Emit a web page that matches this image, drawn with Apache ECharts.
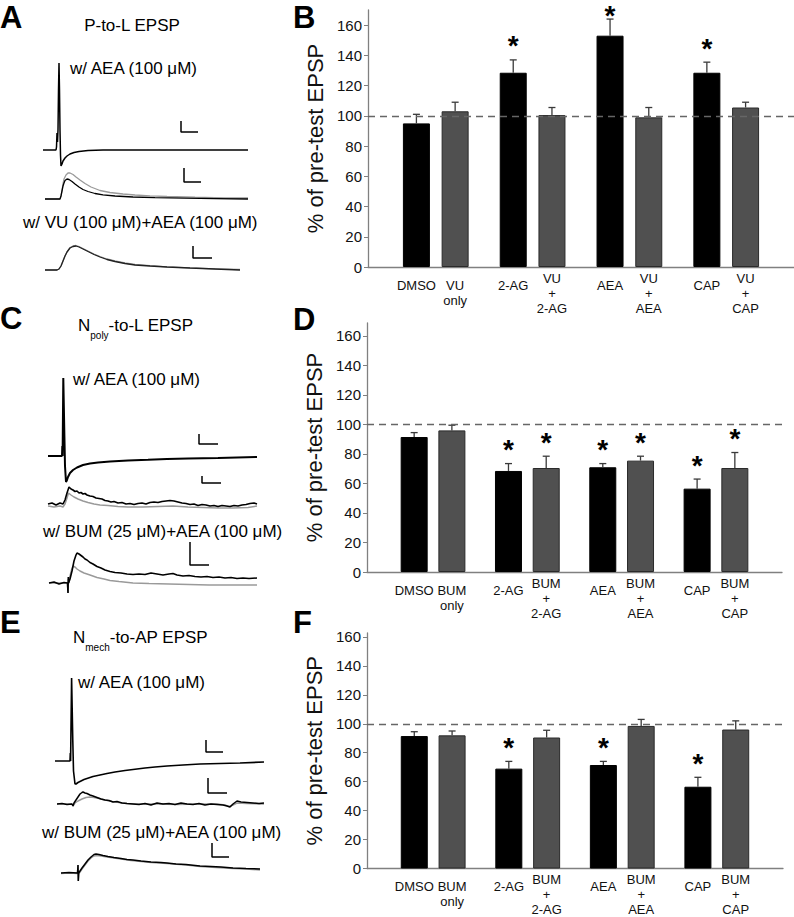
<!DOCTYPE html>
<html><head><meta charset="utf-8">
<script src="https://cdn.jsdelivr.net/npm/echarts@6/dist/echarts.min.js"></script>
<style>html,body{margin:0;padding:0;background:#fff}#c{width:794px;height:917px}</style>
</head><body><div id="c"></div>
<script>
// ================= DATA =================
const labelsB = ['DMSO','VU\nonly','2-AG','VU\n+\n2-AG','AEA','VU\n+\nAEA','CAP','VU\n+\nCAP'];
const valuesB = [95, 103, 128.5, 100.5, 153, 99, 128.5, 105.5];
const errorsB = [6, 6, 8.5, 5, 11, 6.5, 7, 3.5];
const sigB    = [0, 0, 1, 0, 1, 0, 1, 0];

const labelsD = ['DMSO','BUM\nonly','2-AG','BUM\n+\n2-AG','AEA','BUM\n+\nAEA','CAP','BUM\n+\nCAP'];
const valuesD = [91.5, 96, 68.5, 70.5, 71, 75.5, 56.5, 70.5];
const errorsD = [3, 3.5, 5, 8, 2.5, 3, 6.5, 10.5];
const sigD    = [0, 0, 1, 1, 1, 1, 1, 1];

const labelsF = ['DMSO','BUM\nonly','2-AG','BUM\n+\n2-AG','AEA','BUM\n+\nAEA','CAP','BUM\n+\nCAP'];
const valuesF = [91.5, 92, 69, 90.5, 71.5, 98.5, 56.5, 96];
const errorsF = [3, 3, 5, 5, 2.5, 4.5, 6.5, 6];
const sigF    = [0, 0, 1, 0, 1, 0, 1, 0];

const yTicks = [0, 20, 40, 60, 80, 100, 120, 140, 160];
const refLevel = 100;
const yAxisTitle = '% of pre-test EPSP';

// Electrophysiology traces: [time, potential] (arbitrary units)
const traceA1 = [[0,0],[13,0],[13.5,3],[14,17],[14.5,8],[15,20],[15.5,60],[16,87],[16.5,60],[17,20],[17.5,-5],[18,-16],[19,-14],[20,-11],[22,-8],[24,-6],[27,-4],[31,-2.5],[36,-1.5],[45,-0.5],[60,0],[205,0]];
const traceA2black = [[0,0],[15,0],[16,3],[17,8],[18,13],[19,16],[20,18.5],[22,20],[24,19.5],[27,17.5],[30,15],[34,12],[38,9.5],[43,7.5],[50,5.5],[58,4.2],[70,3],[88,2],[110,1.3],[140,0.8],[170,0.4],[203,0]];
const traceA2gray  = [[0,0],[15,0],[16,3],[17,9],[18,15],[19,20],[21,24],[23,26],[25,26],[28,24.5],[31,22],[35,19],[40,15.5],[46,12],[55,8.5],[65,6.5],[78,5],[90,4],[105,3.2],[122,2.5],[150,1.8],[180,1.2],[203,1]];
const traceA3black = [[0,0],[12,0],[14,1],[16,4],[18,9],[20,14],[22,18],[25,22],[28,23.5],[31,24],[34,23],[38,21],[43,18.5],[49,15.5],[55,13],[62,10.5],[70,8.5],[80,6.5],[90,5],[105,4],[122,3],[145,2],[170,1],[195,0]];
const traceA3gray  = [[0,0],[12,0],[14,1],[16,4],[18,9],[20,14],[22,18],[25,22.5],[28,24],[31,24.5],[34,23.5],[38,21.5],[43,19],[49,16],[55,13.5],[62,11],[70,9],[80,7],[90,5.5],[105,4.3],[122,3.2],[145,2.2],[170,1.2],[195,0.5]];

const traceC1 = [[0,0],[14,0],[14.3,10],[14.6,0],[15,0],[15.3,78],[16,78],[16.4,20],[17,-10],[18,-26],[19,-24],[20,-21],[22,-17],[25,-14],[29,-11.5],[35,-9],[42,-7.5],[50,-6.5],[62,-5.5],[80,-4.5],[100,-3.8],[119,-3],[140,-2.5],[170,-2],[209,-1]];
const traceC2black = [[0,0],[4,1],[8,-1],[12,1],[15,0],[17,4],[19,11],[21,17],[23,15],[25,14],[27,12.5],[29,13],[31,11],[33,11.5],[35,10],[37,10.5],[39,9],[42,8],[45,7.5],[48,6],[51,5.5],[54,5],[57,3.5],[60,3],[63,2],[66,2.5],[70,1],[74,1.5],[78,0],[82,0.5],[86,-0.5],[90,0.5],[94,1],[98,0],[102,1.5],[106,2],[110,1.5],[114,2.5],[118,3],[122,3.5],[126,3],[130,2],[134,1],[138,0.5],[142,-0.5],[146,0],[150,-1.5],[154,-0.5],[158,-1],[162,-2],[166,-1.5],[170,-2.5],[174,-1.5],[178,-2],[182,-2.5],[186,-1.5],[190,-2],[194,-1],[198,-0.5],[202,0.5],[206,1],[209,0]];
const traceC2gray  = [[0,-2],[6,-3],[12,-2],[15,-3],[17,0],[19,6],[20.5,11],[23,9],[26,7],[30,5],[35,3],[40,1.5],[46,0],[52,-1],[60,-1.5],[70,-2.5],[80,-3],[95,-3],[110,-2.5],[125,-2],[140,-3],[155,-3.5],[170,-4],[185,-4],[200,-3.5],[209,-2]];
const traceC3black = [[0,0],[5,1],[10,-1],[15,0.5],[18.5,0],[19,-10],[19.3,6],[19.6,0],[21,4],[23,12],[25,22],[27,28],[28,30],[30,29],[32,27.5],[34,26],[36,24],[38,23],[41,20.5],[44,19],[48,16.5],[52,15],[56,13],[61,11.5],[66,10.5],[72,10],[78,9],[84,8.5],[90,9],[96,8.5],[102,10],[108,9],[114,8],[120,9],[124,9.5],[128,8],[134,7],[140,7.5],[146,6.5],[152,6],[158,6.5],[164,5.5],[170,6],[176,5],[182,5.5],[188,4.5],[194,5],[200,4.5],[208,5]];
const traceC3gray  = [[0,0],[10,0],[18.5,0],[19,-10],[19.3,4],[19.6,0],[21,7],[22.5,13],[24,17],[26,16],[28,14],[31,12],[35,10],[41,8],[48,5.5],[55,4],[61,2.5],[70,1.5],[84,0],[100,-0.5],[120,-1],[140,-1.5],[160,-2],[180,-2],[208,-2]];

const traceE1 = [[0,0],[15,0],[15.3,8],[15.6,0],[16.2,0],[16.6,83],[17.2,83],[17.8,20],[18.5,-10],[20,-23],[21,-23],[23,-21.5],[26,-20],[29,-18.5],[32,-17.5],[38,-15.5],[45,-14],[52,-12.5],[60,-11],[70,-9.5],[78,-8.5],[90,-7],[100,-6],[112,-5],[128,-4],[145,-3],[165,-2.5],[185,-2],[209,-1]];
const traceE2black = [[0,0],[5,0.5],[10,-0.5],[15,0],[16,-2],[17,1],[19,4],[21,7],[23,10],[25,11.5],[26,12],[28,11],[30,10.5],[33,9],[36,8],[40,6.5],[44,5],[48,4],[52,3.5],[56,2],[60,2.5],[65,1],[70,0.5],[76,0],[82,-0.5],[88,0.5],[94,-1],[100,1],[106,0],[112,0.5],[118,-0.5],[124,1],[130,0],[136,-0.5],[142,0.5],[148,-1],[154,0],[160,-0.5],[166,-1],[170,-2],[173,-3],[176,0],[180,3],[184,2],[190,1.5],[196,1],[202,0.5],[207,1]];
const traceE2gray  = [[0,0],[15,0],[16,-2],[18,1],[21,3],[25,5],[29,6.5],[33,7],[37,6.5],[42,5.5],[48,4],[55,2.5],[62,1.5],[70,0.5],[80,0],[100,0],[120,-0.5],[140,0],[160,0],[168,-1],[172,-2.5],[176,-1],[180,1],[190,0.5],[207,0]];
const traceE3black = [[0,0],[8,0.5],[16.5,0],[17,8],[17.3,-8],[17.7,0],[19,2],[21,5],[24,9],[27,13],[30,16],[33,18.5],[35,19],[38,18.5],[42,17.5],[47,16.5],[53,15.5],[60,14.5],[66,13.5],[72,13],[80,12],[90,11],[100,10.5],[106,10],[115,9],[125,8.5],[139,7],[150,6.5],[160,6],[172,5],[185,4.5],[199,4]];
const traceE3gray  = [[0,-0.5],[8,0],[16.5,-0.5],[17,8],[17.3,-8],[17.7,-1],[19,1],[21,4],[24,8],[27,12],[30,15],[33,17],[36,17.5],[40,17],[46,16],[53,15],[60,14],[70,12.5],[80,11.5],[90,10.5],[106,9.5],[125,8],[139,6.5],[155,5.5],[172,4.5],[185,4],[199,3]];

// scale bars (time, potential)
const scaleA1 = [[138,29],[138,18],[155,18]];
const scaleA2 = [[139,31],[139,17],[156,17]];
const scaleA3 = [[148,24],[148,12],[167,12]];
const scaleC1 = [[151,22],[151,12],[170,12]];
const scaleC2 = [[154,28],[154,21],[173,21]];
const scaleC3 = [[141,41],[141,18],[160,18]];
const scaleE1 = [[151,21],[151,9],[168,9]];
const scaleE2 = [[151,26],[151,11],[170,11]];
const scaleE3 = [[151,30],[151,16],[168,16]];

// ================= LAYOUT / STYLE =================
const FONT = '"Liberation Sans", Arial, Helvetica, sans-serif';
const SLOTS = 22;
const barSlots = [2, 4, 7, 9, 12, 14, 17, 19];
const BLACK = '#000000', GRAY = '#505050', TGRAY = '#9a9a9a';

const grids = [], xAxes = [], yAxes = [], series = [];

function addBarPanel(box, yMax, labels, values, errors, sig) {
  const gi = grids.length;
  grids.push(Object.assign({containLabel:false}, box));
  const cats = new Array(SLOTS).fill('');
  labels.forEach((l, i) => { cats[barSlots[i]] = l; });
  xAxes.push({
    gridIndex: gi, type: 'category', boundaryGap: true,
    data: cats.map(c => ({value: c, textStyle: {padding: [c.split('\n').length === 3 ? 0 : 7, 0, 0, 0]}})),
    axisTick: {show: false},
    axisLine: {lineStyle: {color: '#808080', width: 1.3}},
    axisLabel: {interval: 0, margin: 3.5, fontSize: 13, lineHeight: 15, color: '#111', fontFamily: FONT, verticalAlign: 'top'}
  });
  yAxes.push({
    gridIndex: gi, type: 'value', min: 0, max: yMax, interval: 20,
    axisLine: {show: true, lineStyle: {color: '#808080', width: 1.3}},
    axisTick: {show: true, length: 4, lineStyle: {color: '#808080'}, customValues: yTicks},
    splitLine: {show: false},
    axisLabel: {fontSize: 15, color: '#111', margin: 6, fontFamily: FONT, customValues: yTicks, showMaxLabel: true, showMinLabel: true},
    name: yAxisTitle, nameLocation: 'middle', nameGap: 36,
    nameTextStyle: {fontSize: 22, color: '#111', fontFamily: FONT}
  });
  const blackData = new Array(SLOTS).fill('-');
  const grayData = new Array(SLOTS).fill('-');
  values.forEach((v, i) => { (i % 2 === 0 ? blackData : grayData)[barSlots[i]] = v; });
  series.push({
    type: 'line', xAxisIndex: gi, yAxisIndex: gi, data: blackData, symbol: 'none',
    lineStyle: {opacity: 0}, z: 1, silent: true, animation: false,
    markLine: {silent: true, symbol: ['none', 'none'], label: {show: false}, animation: false,
      lineStyle: {type: [7, 5], color: '#666', width: 1.3}, data: [{yAxis: refLevel}]}
  });
  series.push({type: 'bar', xAxisIndex: gi, yAxisIndex: gi, data: blackData, barWidth: 27, barGap: '-100%',
    itemStyle: {color: BLACK, borderColor: '#000', borderWidth: 1}, z: 3, animation: false});
  series.push({type: 'bar', xAxisIndex: gi, yAxisIndex: gi, data: grayData, barWidth: 27, barGap: '-100%',
    itemStyle: {color: GRAY, borderColor: '#2a2a2a', borderWidth: 1}, z: 3, animation: false});
  series.push({
    type: 'custom', xAxisIndex: gi, yAxisIndex: gi, z: 4, clip: false, animation: false, silent: true,
    data: values.map((v, i) => [barSlots[i], v, errors[i]]),
    encode: {x: 0, y: 1},
    renderItem: (params, api) => {
      const x = api.value(0), v = api.value(1), e = api.value(2);
      const p0 = api.coord([x, v]), p1 = api.coord([x, v + e]);
      const st = {stroke: '#3a3a3a', lineWidth: 1.3, fill: null};
      return {type: 'group', children: [
        {type: 'line', shape: {x1: p0[0], y1: p0[1], x2: p1[0], y2: p1[1]}, style: st},
        {type: 'line', shape: {x1: p1[0] - 3.5, y1: p1[1], x2: p1[0] + 3.5, y2: p1[1]}, style: st}
      ]};
    }
  });
  series.push({
    type: 'custom', xAxisIndex: gi, yAxisIndex: gi, z: 5, clip: false, animation: false, silent: true,
    data: values.map((v, i) => [barSlots[i], v + errors[i], sig[i]]).filter(d => d[2] === 1),
    encode: {x: 0, y: 1},
    renderItem: (params, api) => {
      const p = api.coord([api.value(0), api.value(1)]);
      return {type: 'text', x: p[0], y: Math.max(p[1] - 14, 15),
        style: {text: '*', fill: '#000', fontSize: 28, fontWeight: 'bold', fontFamily: FONT, align: 'center', verticalAlign: 'middle'}};
    }
  });
}

function addTraceGrid(left, baselineY, tmax, vmin, vmax, traces, scaleBar) {
  const gi = grids.length;
  grids.push({left: left, top: baselineY - vmax, width: tmax, height: vmax - vmin});
  xAxes.push({gridIndex: gi, type: 'value', min: 0, max: tmax, show: false});
  yAxes.push({gridIndex: gi, type: 'value', min: vmin, max: vmax, show: false});
  traces.forEach(t => series.push({
    type: 'line', xAxisIndex: gi, yAxisIndex: gi, data: t.data, symbol: 'none', showSymbol: false,
    lineStyle: {color: t.color, width: t.width}, animation: false, silent: true, z: t.z || 2
  }));
  series.push({
    type: 'line', xAxisIndex: gi, yAxisIndex: gi, data: scaleBar, symbol: 'none',
    lineStyle: {color: '#000', width: 1.5}, animation: false, silent: true
  });
}

// Bar panels B, D, F
addBarPanel({left: 368, right: 0, top: 10, bottom: 650}, 170, labelsB, valuesB, errorsB, sigB);
addBarPanel({left: 367, right: 12, top: 323, bottom: 345}, 168.8, labelsD, valuesD, errorsD, sigD);
addBarPanel({left: 367, right: 11, top: 633, bottom: 44}, 162.7, labelsF, valuesF, errorsF, sigF);

// Trace panels A, C, E
addTraceGrid(43, 150, 205, -20, 90, [{data: traceA1, color: BLACK, width: 1.5}], scaleA1);
addTraceGrid(45, 199, 203, -5, 35, [{data: traceA2gray, color: TGRAY, width: 1.3}, {data: traceA2black, color: BLACK, width: 1.3, z: 3}], scaleA2);
addTraceGrid(45, 270, 195, -5, 28, [{data: traceA3gray, color: TGRAY, width: 1.3}, {data: traceA3black, color: '#222', width: 1.3, z: 3}], scaleA3);
addTraceGrid(48, 456, 209, -30, 80, [{data: traceC1, color: BLACK, width: 2}], scaleC1);
addTraceGrid(48, 504, 209, -8, 30, [{data: traceC2gray, color: TGRAY, width: 1.5}, {data: traceC2black, color: BLACK, width: 1.6, z: 3}], scaleC2);
addTraceGrid(49, 583, 208, -12, 43, [{data: traceC3gray, color: TGRAY, width: 1.5}, {data: traceC3black, color: BLACK, width: 1.6, z: 3}], scaleC3);
addTraceGrid(55, 761, 209, -26, 85, [{data: traceE1, color: BLACK, width: 1.6}], scaleE1);
addTraceGrid(57, 804, 207, -6, 28, [{data: traceE2gray, color: TGRAY, width: 1.5}, {data: traceE2black, color: BLACK, width: 1.5, z: 3}], scaleE2);
addTraceGrid(61, 873, 199, -10, 32, [{data: traceE3gray, color: TGRAY, width: 1.5}, {data: traceE3black, color: BLACK, width: 1.5, z: 3}], scaleE3);

// Text labels
const sub = {n: {fontSize: 17, fontFamily: FONT, fill: '#000', verticalAlign: 'middle', lineHeight: 17},
             s: {fontSize: 10, fontFamily: FONT, fill: '#000', verticalAlign: 'top', lineHeight: 10, padding: [14, 0, 0, 0]}};
function txt(text, x, y, opts) {
  opts = opts || {};
  return {type: 'text', x: x, y: y, silent: true, z: 10,
    style: Object.assign({text: text, fill: '#000', fontSize: 17, fontFamily: FONT, align: 'left', verticalAlign: 'middle'}, opts)};
}
const letters = [['A', 0, 17], ['B', 293, 17], ['C', 0, 318], ['D', 293, 319], ['E', 0, 622], ['F', 293, 622]];
const graphics = letters.map(l => txt(l[0], l[1], l[2], {fontSize: 31, fontWeight: 'bold'}));
graphics.push(txt('P-to-L EPSP', 132, 25, {align: 'center'}));
graphics.push(txt('w/ AEA (100 μM)', 70, 68));
graphics.push(txt('w/ VU (100 μM)+AEA (100 μM)', 23, 222));
graphics.push(txt('{n|N}{s|poly}{n|-to-L EPSP}', 78, 325, {rich: sub}));
graphics.push(txt('w/ AEA (100 μM)', 73, 379));
graphics.push(txt('w/ BUM (25 μM)+AEA (100 μM)', 43, 531));
graphics.push(txt('{n|N}{s|mech}{n|-to-AP EPSP}', 73, 637, {rich: sub}));
graphics.push(txt('w/ AEA (100 μM)', 78, 682));
graphics.push(txt('w/ BUM (25 μM)+AEA (100 μM)', 42, 832));

const chart = echarts.init(document.getElementById('c'), null, {renderer: 'svg'});
chart.setOption({
  animation: false,
  backgroundColor: '#fff',
  textStyle: {fontFamily: FONT},
  grid: grids, xAxis: xAxes, yAxis: yAxes, series: series,
  graphic: graphics
});
</script>
</body></html>
